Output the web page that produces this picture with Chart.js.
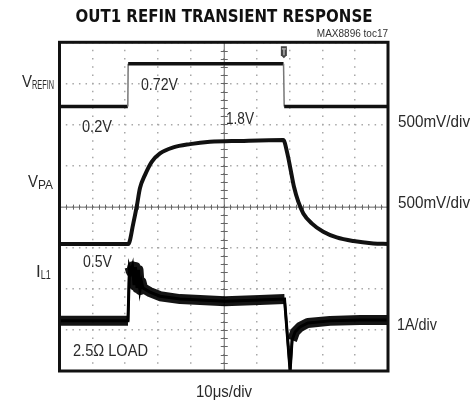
<!DOCTYPE html>
<html>
<head>
<meta charset="utf-8">
<script src="https://cdn.jsdelivr.net/npm/chart.js@4.4.1/dist/chart.umd.min.js"></script>
<style>
  html, body { margin: 0; padding: 0; background: #fff; }
  #wrap { width: 470px; height: 404px; position: relative; }
</style>
</head>
<body>
<div id="wrap"><canvas id="scope"></canvas></div>
<script>
// Time axis: 10us/div, 10 divisions
const timeTicks = [0, 10, 20, 30, 40, 50, 60, 70, 80, 90, 100];

// VREFIN (V), 500mV/div
const vrefinTime = [0, 20.8, 20.9, 68.2, 68.4, 100];
const vrefinVolts = [0.22, 0.22, 0.74, 0.74, 0.22, 0.22];

// VPA (V), 500mV/div
const vpaTime = [0, 20.94, 22.47, 23.5, 24.5, 26.0, 28.07, 30.6, 34.64, 39.73, 45.81, 55.0, 68.13,
  69.35, 70.38, 71.38, 72.69, 74.22, 76.77, 80.3, 84.38, 89.44, 95.53, 100];
const vpaVolts = [0.545, 0.545, 0.797, 0.999, 1.226, 1.384, 1.546, 1.648, 1.721, 1.761, 1.789, 1.80, 1.81,
  1.648, 1.445, 1.242, 1.06, 0.918, 0.797, 0.695, 0.626, 0.582, 0.553, 0.545];

// IL1 (A), 1A/div
const il1Time = [0, 20.85, 21.3, 21.77, 22.22, 22.68, 23.14, 23.59, 24.05, 24.5, 24.96, 25.42, 27.55,
  30.6, 36.7, 50.4, 61.0, 68.5, 70.2, 70.8, 71.7, 73.2, 75.6, 82.3, 91.5, 100];
const il1Amps = [0.22, 0.22, 1.53, 1.41, 1.55, 1.09, 1.53, 1.02, 1.46, 0.97, 1.17, 1.02, 0.92,
  0.82, 0.75, 0.70, 0.73, 0.75, -1.0, -0.25, -0.05, 0.07, 0.17, 0.22, 0.24, 0.24];

// channel positions on screen (ground level in divisions, units per division)
const canal = {
  vrefin: { zero: 6, porDiv: 0.5 },
  vpa: { zero: 2, porDiv: 0.5 },
  il1: { zero: 1, porDiv: 1 }
};
const tempoTrigger = 68.3;

function montarPontos(tempos, valores, ch) {
  return tempos.map((t, i) => ({ x: t, y: ch.zero + valores[i] / ch.porDiv }));
}

const fonte = "'Liberation Sans', Arial, sans-serif";

// long, near-vertical edges are drawn thin
function bordaLonga(ctx) {
  const dx = Math.abs(ctx.p1.x - ctx.p0.x);
  const dy = Math.abs(ctx.p1.y - ctx.p0.y);
  return dy > 2.5 * dx && dy > 28;
}

const moldura = {
  id: 'moldura',
  beforeDatasetsDraw(chart) {
    const c = chart.ctx, a = chart.chartArea;
    const sx = chart.scales.x, sy = chart.scales.y;
    const cx = sx.getPixelForValue(50), cy = sy.getPixelForValue(4);
    c.save();
    c.strokeStyle = '#666';
    c.lineWidth = 1;
    c.beginPath();
    c.moveTo(cx + 0.5, a.top); c.lineTo(cx + 0.5, a.bottom);
    c.moveTo(a.left, cy + 0.5); c.lineTo(a.right, cy + 0.5);
    for (let d = 0; d <= 40; d++) {
      const py = Math.round(sy.getPixelForValue(d / 5)) + 0.5;
      c.moveTo(cx - 3, py); c.lineTo(cx + 4, py);
    }
    for (let d = 0; d <= 50; d++) {
      const px = Math.round(sx.getPixelForValue(d * 2)) + 0.5;
      c.moveTo(px, cy - 2); c.lineTo(px, cy + 3);
    }
    c.stroke();
    c.restore();
  },
  afterDraw(chart) {
    const c = chart.ctx, a = chart.chartArea;
    const sx = chart.scales.x;
    c.save();
    // frame
    c.strokeStyle = '#111';
    c.lineWidth = 3;
    c.strokeRect(a.left, a.top, a.right - a.left, a.bottom - a.top);

    // trigger marker
    const tx = sx.getPixelForValue(tempoTrigger);
    c.fillStyle = '#444';
    c.beginPath();
    c.moveTo(tx - 3, a.top + 4);
    c.lineTo(tx + 3, a.top + 4);
    c.lineTo(tx + 3, a.top + 13);
    c.lineTo(tx, a.top + 16);
    c.lineTo(tx - 3, a.top + 13);
    c.closePath();
    c.fill();
    c.fillStyle = '#ccc';
    c.fillRect(tx - 0.5, a.top + 7, 1.2, 6);
    c.fillRect(tx - 2, a.top + 6, 4, 1.2);

    // title
    c.fillStyle = '#111';
    c.textBaseline = 'alphabetic';
    c.textAlign = 'center';
    c.font = "bold 17px 'DejaVu Sans Condensed', 'Liberation Sans Narrow', 'Liberation Sans', sans-serif";
    c.fillText('OUT1 REFIN TRANSIENT RESPONSE', 224, 22, 297);
    c.textAlign = 'right';
    c.font = '10px ' + fonte;
    c.fillStyle = '#333';
    c.fillText('MAX8896 toc17', 388, 37, 95);

    // labels
    c.fillStyle = '#2a2a2a';
    c.textAlign = 'left';
    const rotulo = (txt, x, y, tam, maxW) => {
      c.font = tam + 'px ' + fonte;
      c.fillText(txt, x, y, maxW);
    };
    rotulo('0.72V', 141, 90, 16, 37);
    rotulo('0.2V', 82, 132, 16, 30);
    rotulo('1.8V', 226, 124, 16, 28);
    rotulo('0.5V', 83, 267, 16, 29);
    rotulo('2.5\u03A9 LOAD', 73, 356, 16, 75);

    rotulo('500mV/div', 398, 127, 17, 72);
    rotulo('500mV/div', 398, 208, 17, 72);
    rotulo('1A/div', 397, 330, 17, 40);

    c.textAlign = 'center';
    c.font = '16px ' + fonte;
    c.fillText('10\u03BCs/div', 224, 397, 56);

    // channel names with subscripts
    c.textAlign = 'left';
    const nome = (base, sub, x, y, wSub) => {
      c.font = '17px ' + fonte;
      c.fillText(base, x, y, 10);
      const w = Math.min(c.measureText(base).width, 10);
      c.font = '12px ' + fonte;
      c.fillText(sub, x + w, y + 2, wSub);
    };
    nome('V', 'REFIN', 22, 87, 22);
    nome('V', 'PA', 28, 187, 15);
    nome('I', 'L1', 36, 277, 10);
    c.restore();
  }
};

const ctx = document.getElementById('scope');
new Chart(ctx, {
  type: 'line',
  data: {
    datasets: [
      {
        data: montarPontos(vrefinTime, vrefinVolts, canal.vrefin),
        borderColor: '#111',
        borderWidth: 3.5,
        pointRadius: 0,
        tension: 0,
        segment: { borderColor: c => bordaLonga(c) ? '#777' : '#111', borderWidth: c => bordaLonga(c) ? 1.5 : 3.5 }
      },
      {
        data: montarPontos(vpaTime, vpaVolts, canal.vpa),
        borderColor: '#111',
        borderWidth: 4,
        pointRadius: 0,
        cubicInterpolationMode: 'monotone'
      },
      {
        data: montarPontos(il1Time, il1Amps, canal.il1),
        borderColor: 'rgba(0,0,0,0.92)',
        borderWidth: 10,
        borderJoinStyle: 'round',
        pointRadius: 0,
        tension: 0,
        segment: { borderWidth: c => bordaLonga(c) ? 2.5 : 10 }
      },
      {
        data: montarPontos(il1Time, il1Amps, canal.il1),
        borderColor: '#000',
        borderWidth: 3,
        pointRadius: 0,
        tension: 0
      }
    ]
  },
  options: {
    responsive: true,
    maintainAspectRatio: false,
    animation: false,
    layout: { padding: { left: 59.5, top: 42.3, right: 82, bottom: 33 } },
    plugins: { legend: { display: false }, tooltip: { enabled: false }, title: { display: false } },
    scales: {
      x: {
        type: 'linear',
        min: 0,
        max: 100,
        afterBuildTicks: axis => { axis.ticks = timeTicks.map(v => ({ value: v })); },
        ticks: { display: false },
        grid: { color: '#a8a8a8', lineWidth: 1.5, drawTicks: false },
        border: { display: false, dash: [1.5, 6.72], dashOffset: 0.75 }
      },
      y: {
        min: 0,
        max: 8,
        ticks: { display: false, stepSize: 1 },
        grid: { color: '#a8a8a8', lineWidth: 1.5, drawTicks: false },
        border: { display: false, dash: [1.5, 5.07], dashOffset: 0.75 }
      }
    }
  },
  plugins: [moldura]
});
</script>
</body>
</html>
